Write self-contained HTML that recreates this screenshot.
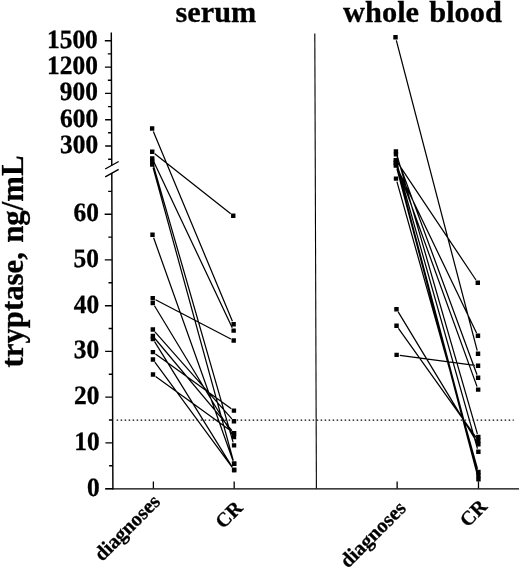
<!DOCTYPE html>
<html><head><meta charset="utf-8"><title>tryptase</title>
<style>html,body{margin:0;padding:0;background:#fff;}svg{display:block;}text{font-family:"Liberation Serif",serif;font-weight:bold;fill:#000;stroke:#000;stroke-width:0.3px;}</style></head><body>
<svg width="520" height="569" viewBox="0 0 520 569">
<rect width="520" height="569" fill="#fff"/>
<text x="215.9" y="21.7" font-size="30.3" text-anchor="middle">serum</text>
<text x="422.5" y="22" font-size="30.4" text-anchor="middle" word-spacing="2.6">whole blood</text>
<text transform="translate(22.5,261.5) rotate(-90)" font-size="30.8" text-anchor="middle" word-spacing="1.6">tryptase, ng/mL</text>
<g transform="matrix(1,0,0.0035,1,-1.711,0)">
<g stroke="#000" fill="none">
<path d="M112.9 32.5V165.5M112.9 173V489.4" stroke-width="1.45"/>
<path d="M105 488.8H519" stroke-width="1.3"/>
<path d="M316.4 33.5V488.6" stroke-width="1.1"/>
<path d="M106.3 169L119.8 161.5M106.3 176.8L119.8 169.3" stroke-width="1.4"/>
<path d="M106.4 40.8H112.9M109.3 53.9H112.9M106.4 67.1H112.9M109.3 80.2H112.9M106.4 93.4H112.9M109.3 106.6H112.9M106.4 119.7H112.9M109.3 132.8H112.9M106.4 146.0H112.9M109.3 159.2H112.9M105.6 488.6H112.9M109.2 465.7H112.9M105.6 442.9H112.9M109.2 420.0H112.9M105.6 397.1H112.9M109.2 374.3H112.9M105.6 351.4H112.9M109.2 328.5H112.9M105.6 305.7H112.9M109.2 282.8H112.9M105.6 259.9H112.9M109.2 237.1H112.9M105.6 214.2H112.9M109.2 191.4H112.9" stroke-width="1.4"/>
<path d="M153.4 481.5V488.6M234.2 481.5V488.6M397.15 481.5V488.6M478.5 481.5V488.6" stroke-width="1.3"/>
<path d="M116.9 420.1H514" stroke-width="1.3" stroke-dasharray="1.5 2.5"/>
</g>
<text transform="translate(99.4,47.6) scale(0.965,1)" font-size="26.4" text-anchor="end">1500</text>
<text transform="translate(99.4,73.9) scale(0.965,1)" font-size="26.4" text-anchor="end">1200</text>
<text transform="translate(99.4,100.2) scale(0.965,1)" font-size="26.4" text-anchor="end">900</text>
<text transform="translate(99.4,126.5) scale(0.965,1)" font-size="26.4" text-anchor="end">600</text>
<text transform="translate(99.4,152.8) scale(0.965,1)" font-size="26.4" text-anchor="end">300</text>
<text transform="translate(99.8,495.5) scale(0.965,1)" font-size="26.4" text-anchor="end">0</text>
<text transform="translate(99.8,449.8) scale(0.965,1)" font-size="26.4" text-anchor="end">10</text>
<text transform="translate(99.8,404.0) scale(0.965,1)" font-size="26.4" text-anchor="end">20</text>
<text transform="translate(99.8,358.3) scale(0.965,1)" font-size="26.4" text-anchor="end">30</text>
<text transform="translate(99.8,312.6) scale(0.965,1)" font-size="26.4" text-anchor="end">40</text>
<text transform="translate(99.8,266.8) scale(0.965,1)" font-size="26.4" text-anchor="end">50</text>
<text transform="translate(99.8,221.1) scale(0.965,1)" font-size="26.4" text-anchor="end">60</text>
<text transform="translate(161.2,502.8) rotate(-45)" font-size="20.4" text-anchor="end">diagnoses</text>
<text transform="translate(243.5,509) rotate(-45)" font-size="20" text-anchor="end">CR</text>
<text transform="translate(407,509.5) rotate(-45)" font-size="20.4" text-anchor="end">diagnoses</text>
<text transform="translate(488,507.5) rotate(-45)" font-size="20" text-anchor="end">CR</text>
<path d="M154.6 131.5L233.0 321.3M155.9 153.8L231.7 213.8M154.8 161.4L232.8 327.7M154.3 164.6L233.3 442.3M154.2 167.6L233.4 460.7M154.5 237.8L233.1 460.8M156.2 299.7L231.4 339.0M155.1 305.8L232.5 434.3M155.5 331.9L232.1 418.8M155.4 338.5L232.2 430.7M155.1 341.7L232.5 467.3M156.0 354.0L231.6 408.7M155.3 362.1L232.3 467.4M156.0 376.4L231.6 431.3" stroke="#000" stroke-width="1.25" fill="none"/>
<path d="M397.9 40.4L477.7 350.7M398.9 162.9L476.7 280.0M398.5 168.3L477.1 332.9M398.2 157.4L477.4 374.7M398.2 165.8L477.4 386.6M400.3 355.3L475.3 365.3M398.8 311.9L476.8 441.6M399.0 328.3L476.6 437.9M398.0 181.7L477.6 468.9M398.0 154.6L477.6 433.9M398.0 163.3L477.6 448.7M398.0 165.9L477.7 472.4M398.0 168.5L477.7 476.2" stroke="#000" stroke-width="1.25" fill="none"/>
<g fill="#000">
<rect x="151.2" y="126.3" width="4.4" height="4.4"/><rect x="151.2" y="149.6" width="4.4" height="4.4"/><rect x="151.2" y="156.3" width="4.4" height="4.4"/><rect x="151.2" y="159.3" width="4.4" height="4.4"/><rect x="151.2" y="162.3" width="4.4" height="4.4"/><rect x="151.2" y="232.6" width="4.4" height="4.4"/><rect x="151.2" y="296.0" width="4.4" height="4.4"/><rect x="151.2" y="300.9" width="4.4" height="4.4"/><rect x="151.2" y="327.3" width="4.4" height="4.4"/><rect x="151.2" y="333.8" width="4.4" height="4.4"/><rect x="151.2" y="336.8" width="4.4" height="4.4"/><rect x="151.2" y="349.9" width="4.4" height="4.4"/><rect x="151.2" y="357.3" width="4.4" height="4.4"/><rect x="151.2" y="372.3" width="4.4" height="4.4"/>
<rect x="232.0" y="322.1" width="4.4" height="4.4"/><rect x="232.0" y="213.6" width="4.4" height="4.4"/><rect x="232.0" y="328.4" width="4.4" height="4.4"/><rect x="232.0" y="443.2" width="4.4" height="4.4"/><rect x="232.0" y="461.6" width="4.4" height="4.4"/><rect x="232.0" y="461.6" width="4.4" height="4.4"/><rect x="232.0" y="338.3" width="4.4" height="4.4"/><rect x="232.0" y="434.8" width="4.4" height="4.4"/><rect x="232.0" y="419.0" width="4.4" height="4.4"/><rect x="232.0" y="431.0" width="4.4" height="4.4"/><rect x="232.0" y="467.8" width="4.4" height="4.4"/><rect x="232.0" y="408.4" width="4.4" height="4.4"/><rect x="232.0" y="467.8" width="4.4" height="4.4"/><rect x="232.0" y="431.0" width="4.4" height="4.4"/>
<rect x="394.9" y="35.1" width="4.4" height="4.4"/><rect x="394.9" y="158.0" width="4.4" height="4.4"/><rect x="394.9" y="163.2" width="4.4" height="4.4"/><rect x="394.9" y="152.2" width="4.4" height="4.4"/><rect x="394.9" y="160.6" width="4.4" height="4.4"/><rect x="394.9" y="352.7" width="4.4" height="4.4"/><rect x="394.9" y="307.0" width="4.4" height="4.4"/><rect x="394.9" y="323.5" width="4.4" height="4.4"/><rect x="394.9" y="176.4" width="4.4" height="4.4"/><rect x="394.9" y="149.3" width="4.4" height="4.4"/><rect x="394.9" y="158.0" width="4.4" height="4.4"/><rect x="394.9" y="160.6" width="4.4" height="4.4"/><rect x="394.9" y="163.2" width="4.4" height="4.4"/>
<rect x="476.3" y="351.6" width="4.4" height="4.4"/><rect x="476.3" y="280.5" width="4.4" height="4.4"/><rect x="476.3" y="333.6" width="4.4" height="4.4"/><rect x="476.3" y="375.5" width="4.4" height="4.4"/><rect x="476.3" y="387.4" width="4.4" height="4.4"/><rect x="476.3" y="363.5" width="4.4" height="4.4"/><rect x="476.3" y="442.1" width="4.4" height="4.4"/><rect x="476.3" y="438.3" width="4.4" height="4.4"/><rect x="476.3" y="469.8" width="4.4" height="4.4"/><rect x="476.3" y="434.8" width="4.4" height="4.4"/><rect x="476.3" y="449.6" width="4.4" height="4.4"/><rect x="476.3" y="473.3" width="4.4" height="4.4"/><rect x="476.3" y="477.1" width="4.4" height="4.4"/>
</g>
</g>
</svg></body></html>
